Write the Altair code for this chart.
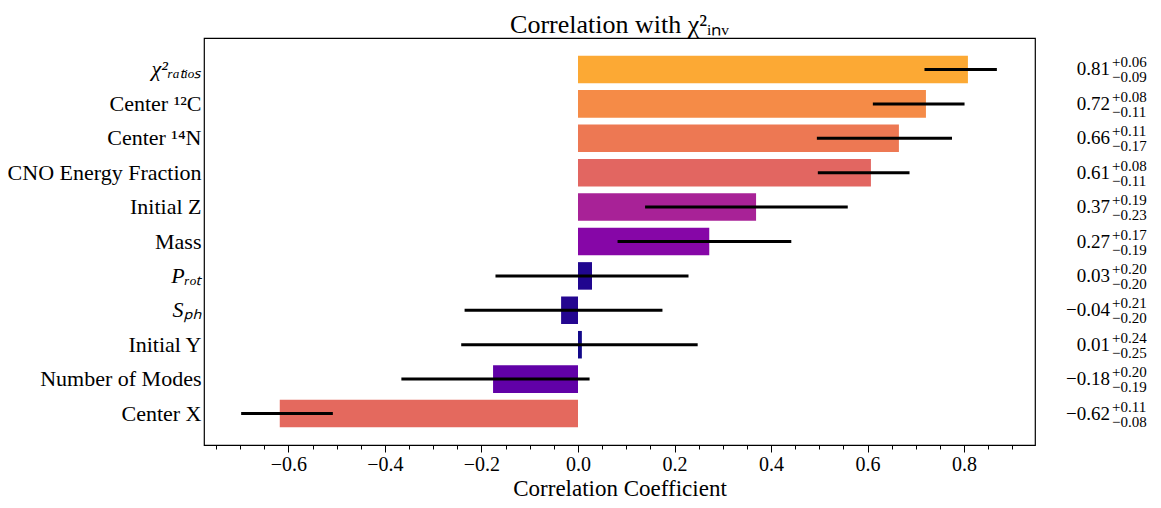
import altair as alt
import pandas as pd

labels = ["χ²ᵣₐₜᵢₒₛ", "Center ¹²C", "Center ¹⁴N", "CNO Energy Fraction", "Initial Z",
          "Mass", "Pᵣₒₜ", "Sₚₕ", "Initial Y", "Number of Modes", "Center X"]
italic_labels = ["χ²ᵣₐₜᵢₒₛ", "Pᵣₒₜ", "Sₚₕ"]
r_values = [0.808, 0.721, 0.665, 0.607, 0.369, 0.272, 0.029, -0.035, 0.008, -0.176, -0.618]
err_plus = [0.06, 0.08, 0.11, 0.08, 0.19, 0.17, 0.20, 0.21, 0.24, 0.20, 0.11]
err_minus = [0.09, 0.11, 0.17, 0.11, 0.23, 0.19, 0.20, 0.20, 0.25, 0.19, 0.08]
main_text = ["0.81", "0.72", "0.66", "0.61", "0.37", "0.27", "0.03", "−0.04", "0.01", "−0.18", "−0.62"]
plus_text = ["+0.06", "+0.08", "+0.11", "+0.08", "+0.19", "+0.17", "+0.20", "+0.21", "+0.24", "+0.20", "+0.11"]
minus_text = ["−0.09", "−0.11", "−0.17", "−0.11", "−0.23", "−0.19", "−0.20", "−0.20", "−0.25", "−0.19", "−0.08"]
major_ticks = [-0.6, -0.4, -0.2, 0.0, 0.2, 0.4, 0.6, 0.8]
minor_ticks = [round(-0.75 + 0.05 * i, 2) for i in range(34)]

df = pd.DataFrame({
    "label": labels,
    "r": r_values,
    "absr": [abs(v) for v in r_values],
    "lo": [v - m for v, m in zip(r_values, err_minus)],
    "hi": [v + p for v, p in zip(r_values, err_plus)],
    "main": main_text,
    "sup": plus_text,
    "sub": minus_text,
})

FONT = "Liberation Serif"
W, H = 831, 407
xscale = alt.Scale(domain=[-0.775, 0.947], nice=False, zero=False)

italic_test = "indexof([" + ",".join("'" + s + "'" for s in italic_labels) + "], datum.value) >= 0"

yenc = alt.Y("label:N", sort=labels, title=None,
             scale=alt.Scale(paddingInner=0.2, paddingOuter=0.515),
             axis=alt.Axis(ticks=False, domain=False, labelFont=FONT, labelFontSize=22,
                           labelFontStyle={"condition": {"test": italic_test, "value": "italic"},
                                           "value": "normal"},
                           labelColor="black", labelPadding=3, labelLimit=300))

xmajor = alt.X("r:Q", title="Correlation Coefficient", scale=xscale,
               axis=alt.Axis(values=major_ticks, domain=False, grid=False, orient="bottom",
                             format=".1f", labelFont=FONT, labelFontSize=20, labelColor="black",
                             labelPadding=2, labelFlush=False, labelOverlap=False,
                             tickColor="black", tickWidth=1, tickSize=7,
                             titleFont=FONT, titleFontSize=23, titleFontWeight="normal",
                             titleColor="black", titlePadding=3))

xminor = alt.X("lo:Q", title=None, scale=xscale,
               axis=alt.Axis(values=minor_ticks, domain=False, grid=False, orient="bottom",
                             labels=False, tickColor="black", tickWidth=1, tickSize=4))

base = alt.Chart(df)

bars = base.mark_bar().encode(
    x=xmajor,
    x2=alt.datum(0),
    y=yenc,
    color=alt.Color("absr:Q", scale=alt.Scale(scheme="plasma", domain=[0, 1]), legend=None),
)

errs = base.mark_rule(color="black", strokeWidth=3).encode(
    x=xminor, x2="hi:Q", y=alt.Y("label:N", sort=labels),
)

main = base.mark_text(font=FONT, fontSize=19, align="right", baseline="middle", color="black").encode(
    x=alt.value(W + 75), y=alt.Y("label:N", sort=labels), text="main:N")
sup = base.mark_text(font=FONT, fontSize=15, align="left", baseline="middle", color="black", dy=-7).encode(
    x=alt.value(W + 77), y=alt.Y("label:N", sort=labels), text="sup:N")
sub = base.mark_text(font=FONT, fontSize=15, align="left", baseline="middle", color="black", dy=8).encode(
    x=alt.value(W + 77), y=alt.Y("label:N", sort=labels), text="sub:N")

chart = alt.layer(bars, errs, main, sup, sub).resolve_axis(x="independent").properties(
    width=W, height=H,
    title=alt.TitleParams("Correlation with χ²ᵢₙᵥ", font=FONT, fontSize=26, fontWeight="normal",
                          color="black", offset=0, anchor="middle"),
    autosize=alt.AutoSizeParams(type="none"),
    padding={"left": 196, "top": 30, "right": 118, "bottom": 55},
).configure(background="white").configure_view(stroke="black", strokeWidth=1.2)

chart.save("out.html", embed_options={"renderer": "svg", "actions": False})
